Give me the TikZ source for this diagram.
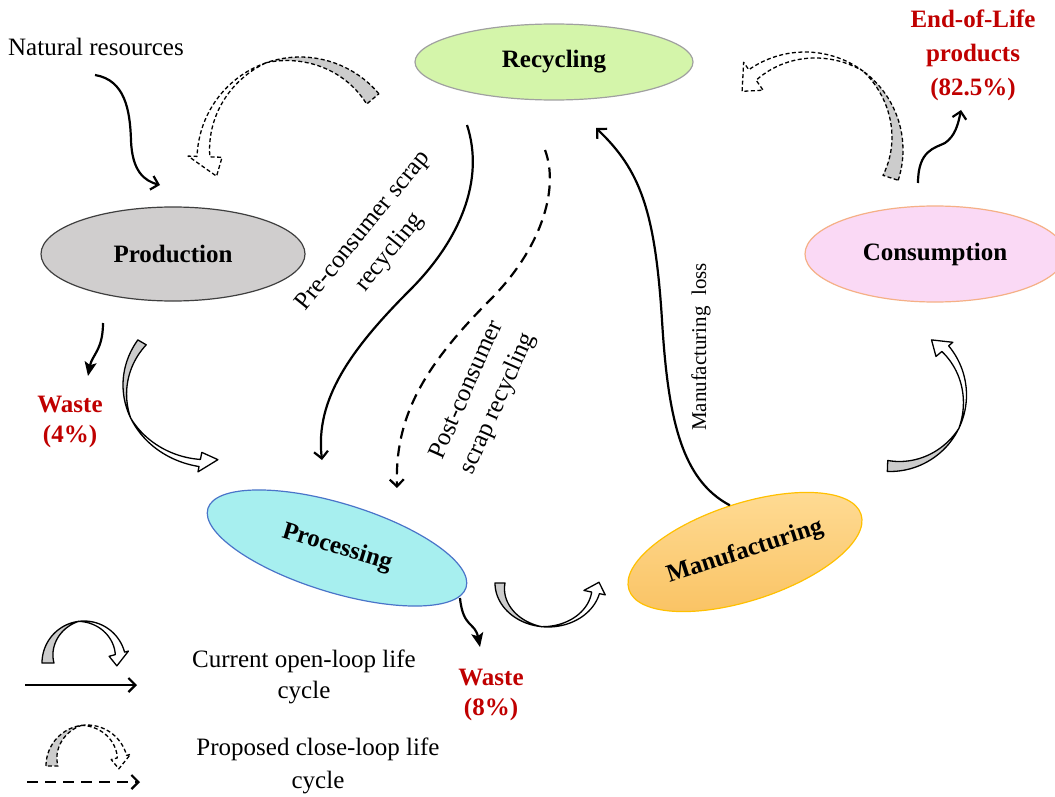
\documentclass[tikz,border=0pt]{standalone}
\usepackage{fontspec}
\setmainfont{Liberation Serif}
\usetikzlibrary{arrows.meta,shapes.geometric}
\definecolor{ggray}{HTML}{CCCCCC}
\definecolor{wred}{HTML}{C00000}
\definecolor{crec}{HTML}{D4F5AA}
\definecolor{crecb}{HTML}{A0A0A0}
\definecolor{cprod}{HTML}{D0CECE}
\definecolor{cprodb}{HTML}{3F3F3F}
\definecolor{ccons}{HTML}{FAD9F5}
\definecolor{cconsb}{HTML}{F5B086}
\definecolor{cproc}{HTML}{A7EFEF}
\definecolor{cprocb}{HTML}{4A74C9}
\definecolor{cmanA}{HTML}{FFDC96}
\definecolor{cmanB}{HTML}{F9C262}
\definecolor{cmanb}{HTML}{FFC000}
% curved block arrow: #1 scope opts, #2 radius, #3 start angle, #4 end angle,
% #5 band width, #6 head half width, #7 head angle, #8 tip radial offset
\newcommand\barrow[8]{%
 \begin{scope}[#1]
 \pgfmathsetmacro\bam{((#3)+(#4))/2}
 \pgfmathsetmacro\bro{(#2)+(#5)/2}
 \filldraw[fill=ggray] plot[domain=0:1,samples=24] ({\bro*cos((#3)+(\bam-(#3))*\x)},{\bro*sin((#3)+(\bam-(#3))*\x)})
   -- plot[domain=0:1,samples=24] ({(\bro-(#5)*\x)*cos(\bam+((#3)-\bam)*\x)},{(\bro-(#5)*\x)*sin(\bam+((#3)-\bam)*\x)}) -- cycle;
 \filldraw[fill=white] plot[domain=0:1,samples=24] ({\bro*cos(\bam+((#4)-\bam)*\x)},{\bro*sin(\bam+((#4)-\bam)*\x)})
   -- ({((#2)+(#6))*cos(#4)},{((#2)+(#6))*sin(#4)})
   -- ({((#2)+(#8))*cos((#4)+(#7))},{((#2)+(#8))*sin((#4)+(#7))})
   -- ({((#2)-(#6))*cos(#4)},{((#2)-(#6))*sin(#4)})
   -- plot[domain=0:1,samples=24] ({((#2)-0.3*(#5)+0.8*(#5)*\x)*cos((#4)+(\bam-(#4))*\x)},{((#2)-0.3*(#5)+0.8*(#5)*\x)*sin((#4)+(\bam-(#4))*\x)}) -- cycle;
 \end{scope}}
\tikzset{
 every node/.style={font=\fontsize{25}{31}\selectfont, inner sep=0pt},
 lbl/.style={align=center},
 rlbl/.style={align=center, font=\fontsize{25}{34}\selectfont},
 redlbl/.style={align=center, text=wred, font=\fontsize{25}{31}\selectfont\bfseries},
 ell/.style={ellipse, draw, line width=1.2pt, font=\fontsize{25}{31}\selectfont\bfseries, inner sep=0pt},
 ln/.style={line width=2.2pt},
 arr/.style={ln, -{Straight Barb[length=7pt,width=14pt]}},
 farr/.style={ln, -{Stealth[length=14pt,width=12pt,inset=3pt]}},
 dsh/.style={dash pattern=on 11pt off 7pt},
 blk/.style={line width=1.3pt, line join=round},
 bdsh/.style={dash pattern=on 4pt off 2.5pt},
}
\begin{document}
\begin{tikzpicture}[x=1pt,y=-1pt]
\useasboundingbox (0,0) rectangle (1055,797);
\fill[white] (0,0) rectangle (1055,797);

% ellipses
\node[ell, fill=crec, draw=crecb, minimum width=278pt, minimum height=76pt] (rec) at (554,62) {Recycling};
\node[ell, fill=cprod, draw=cprodb, minimum width=264pt, minimum height=94pt] (prod) at (173,254) {Production};
\node[ell, fill=ccons, draw=cconsb, minimum width=260pt, minimum height=96pt] (cons) at (935,254) {Consumption};
\node[ell, fill=cproc, draw=cprocb, minimum width=270pt, minimum height=89pt, rotate=-17] (proc) at (337,548) {Processing};
\node[ell, top color=cmanA, bottom color=cmanB, draw=cmanb, minimum width=244pt, minimum height=97pt, rotate=18] (man) at (745,552) {Manufacturing};

% text labels
\node[lbl] (nat) at (96,47) {Natural resources};
\node[redlbl, font=\fontsize{25}{34}\selectfont\bfseries] (eol) at (973,55) {End-of-Life\\products\\(82.5\%)};
\node[redlbl, font=\fontsize{25}{30}\selectfont\bfseries] (w4) at (70,422) {Waste\\(4\%)};
\node[redlbl, font=\fontsize{25}{30}\selectfont\bfseries] (w8) at (491,695) {Waste\\(8\%)};
\node[rlbl, rotate=51] (pre) at (377,242) {Pre-consumer scrap\\recycling};
\node[rlbl, rotate=66] (post) at (483,397) {Post-consumer\\scrap recycling};
\node[lbl, rotate=90, font=\fontsize{21}{26}\selectfont] (loss) at (701,347) {Manufacturing\ \ loss};
\node[lbl] (leg1) at (304,677) {Current open-loop life\\cycle};
\node[lbl, font=\fontsize{25}{33}\selectfont] (leg2) at (318,766) {Proposed close-loop life\\cycle};

% coordinates for free ends
\coordinate (natS) at (95,75);
\coordinate (natE) at (160,185);
\coordinate (w4S) at (103,323);
\coordinate (w4E) at (88,376);
\coordinate (w8S) at (460,598);
\coordinate (w8E) at (480,647);
\coordinate (eolS) at (918,183);
\coordinate (eolE) at (961,110);
\coordinate (preS) at (467,125);
\coordinate (preE) at (322,460);
\coordinate (postS) at (545,150);
\coordinate (postE) at (397,488);
\coordinate (lossE) at (596,128);
\coordinate (l1a) at (25,685);
\coordinate (l1b) at (137,685);
\coordinate (l2a) at (27,782);
\coordinate (l2b) at (140,782);

% connectors
\draw[arr] (natS) .. controls (125,80) and (130,110) .. (131,140) .. controls (132,172) and (145,181) .. (natE);
\draw[farr] (w4S) .. controls (103,350) and (92,355) .. (w4E);
\draw[farr] (w8S) .. controls (463,628) and (475,622) .. (w8E);
\draw[arr] (eolS) .. controls (918,150) and (935,148) .. (945,143) .. controls (955,136) and (958,125) .. (eolE);
\draw[arr] (preS) .. controls (485,180) and (460,240) .. (410,290) .. controls (350,350) and (315,400) .. (preE);
\draw[arr, dsh] (postS) .. controls (560,190) and (540,250) .. (490,300) .. controls (420,370) and (395,420) .. (postE);
\draw[arr] (man.north) .. controls (682,480) and (668,420) .. (662,320) .. controls (655,210) and (640,170) .. (lossE);
\draw[arr] (l1a) -- (l1b);
\draw[arr, dsh] (l2a) -- (l2b);

% curved block arrows
\barrow{shift={(300,160)},blk,bdsh}{95}{-40}{-178}{16}{17}{-13}{-10}
\barrow{shift={(805,150)},blk,bdsh}{90}{18}{-125}{16}{17}{-12}{-4}
\barrow{shift={(215,385)},yscale=0.9,blk}{87}{213}{100}{10}{11}{-12}{-4}
\barrow{shift={(548,583)},yscale=0.83,blk}{48}{180}{14}{10}{11}{-15}{3}
\barrow{shift={(890,395)},blk}{71}{92}{-40}{11}{11}{-13}{-2}
\barrow{shift={(84,663)},blk}{36}{180}{345}{12}{10}{20}{-3}
\barrow{shift={(87,766)},blk,bdsh}{35}{180}{345}{12}{10}{20}{-3}
\end{tikzpicture}
\end{document}
